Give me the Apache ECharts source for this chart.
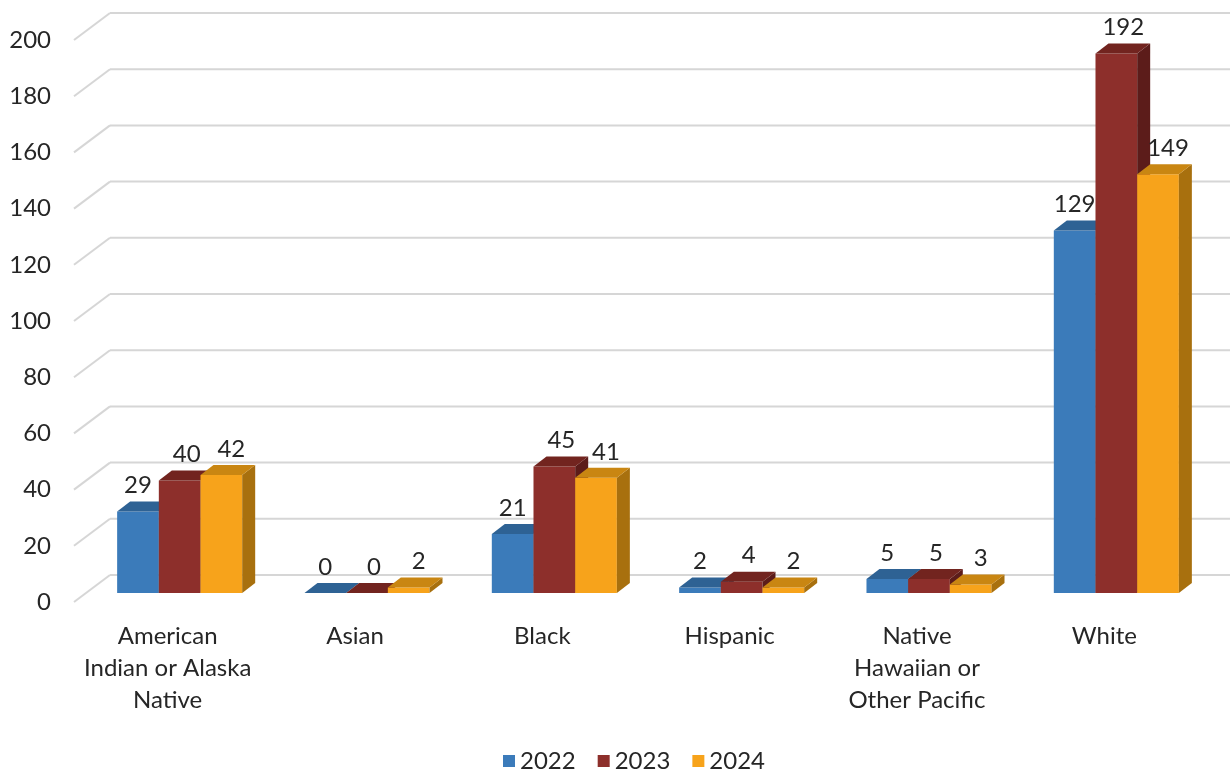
<!DOCTYPE html>
<html>
<head>
<meta charset="utf-8">
<script src="https://cdn.jsdelivr.net/npm/echarts@6/dist/echarts.min.js"></script>
<style>
html,body{margin:0;padding:0;background:#fff;}
#chart{width:1230px;height:772px;}
</style>
</head>
<body>
<div id="chart"></div>
<script>
const categories = ['American\nIndian or Alaska\nNative', 'Asian', 'Black', 'Hispanic', 'Native\nHawaiian or\nOther Pacific', 'White'];
const years = ['2022', '2023', '2024'];
const v2022 = [29, 0, 21, 2, 5, 129];
const v2023 = [40, 0, 45, 4, 5, 192];
const v2024 = [42, 2, 41, 2, 3, 149];
const yTicks = [0, 20, 40, 60, 80, 100, 120, 140, 160, 180, 200];

const FONT = 'Lato, "Open Sans", sans-serif';
const TEXT = '#262626';
const DX = 13, DY = -10;
const palette = [
  { front: '#3b7bba', top: '#2e6294', side: '#285780' },
  { front: '#8d2f2b', top: '#72241f', side: '#5c1c1a' },
  { front: '#f7a31b', top: '#c98612', side: '#a8700e' }
];
const labelShift = [0, 7, 10];
const seriesValues = [v2022, v2023, v2024];

const chart = echarts.init(document.getElementById('chart'));

function geom(api, k) {
  const idx = api.value(0), val = api.value(1);
  const top = api.coord([idx, val]);
  const base = api.coord([idx, 0]);
  const band = api.size([1, 0])[0];
  const bw = band * 0.2225;
  const x0 = top[0] - 1.5 * bw + k * bw;
  return { val: val, x0: x0, x1: x0 + bw, bw: bw, yt: top[1], yb: base[1] };
}

function barSeries(k) {
  return {
    name: years[k],
    type: 'custom',
    xAxisIndex: 0, yAxisIndex: 0,
    itemStyle: { color: palette[k].front },
    z: 10 + k,
    data: seriesValues[k].map((v, i) => [i, v]),
    renderItem: function (params, api) {
      const g = geom(api, k);
      const x0 = g.x0, x1 = g.x1, yt = g.yt, yb = g.yb;
      const c = palette[k];
      return {
        type: 'group',
        children: [
          { type: 'polygon', shape: { points: [[x0, yb], [x1, yb], [x1, yt], [x0, yt]] }, style: { fill: c.front } },
          { type: 'polygon', shape: { points: [[x1, yb], [x1 + DX, yb + DY], [x1 + DX, yt + DY], [x1, yt]] }, style: { fill: c.side } },
          { type: 'polygon', shape: { points: [[x0, yt], [x1, yt], [x1 + DX, yt + DY], [x0 + DX, yt + DY]] }, style: { fill: c.top } }
        ]
      };
    }
  };
}

function labelSeries(k) {
  return {
    name: 'label' + years[k],
    type: 'custom',
    silent: true,
    xAxisIndex: 0, yAxisIndex: 0,
    z: 30,
    data: seriesValues[k].map((v, i) => [i, v]),
    renderItem: function (params, api) {
      const g = geom(api, k);
      return {
        type: 'text',
        x: g.x0 + g.bw / 2 + labelShift[k],
        y: g.yt - 26,
        style: { text: String(g.val), fill: TEXT, font: '24px ' + FONT, align: 'center', verticalAlign: 'middle' }
      };
    }
  };
}

const option = {
  animation: false,
  backgroundColor: '#ffffff',
  grid: [
    { left: 86, right: 20, top: 31, bottom: 179 },
    { left: 74, right: 32, top: 40, bottom: 170 }
  ],
  xAxis: [
    { type: 'category', data: categories, gridIndex: 0, show: false },
    { type: 'category', data: categories, gridIndex: 1,
      axisLine: { show: false }, axisTick: { show: false },
      axisLabel: { color: TEXT, fontSize: 24, fontFamily: FONT, lineHeight: 32, margin: 18, interval: 0 } }
  ],
  yAxis: [
    { type: 'value', gridIndex: 0, min: 0, max: 200, interval: 20, show: false },
    { type: 'value', gridIndex: 1, min: 0, max: 200, interval: 20,
      axisLine: { show: false }, axisTick: { show: false }, splitLine: { show: false },
      axisLabel: { color: TEXT, fontSize: 24, fontFamily: FONT, margin: 23 } }
  ],
  legend: {
    data: years,
    bottom: -6,
    left: 498,
    icon: 'rect',
    itemWidth: 12, itemHeight: 12, itemGap: 22,
    textStyle: { color: TEXT, fontSize: 24, fontFamily: FONT }
  },
  series: [
    {
      type: 'custom',
      name: 'grid',
      silent: true,
      xAxisIndex: 0, yAxisIndex: 0,
      z: 1,
      data: yTicks.map(v => [0, v]),
      renderItem: function (params, api) {
        const y = api.coord([0, api.value(1)])[1];
        const cs = params.coordSys;
        const st = { stroke: '#d6d6d6', lineWidth: 2, fill: null };
        return {
          type: 'group',
          children: [
            { type: 'line', shape: { x1: cs.x - 12, y1: y + 9, x2: cs.x + 24, y2: y - 18 }, style: st },
            { type: 'line', shape: { x1: cs.x + 24, y1: y - 18, x2: 1230, y2: y - 18 }, style: st }
          ]
        };
      }
    },
    barSeries(0), barSeries(1), barSeries(2),
    labelSeries(0), labelSeries(1), labelSeries(2)
  ]
};
chart.setOption(option);
</script>
</body>
</html>
